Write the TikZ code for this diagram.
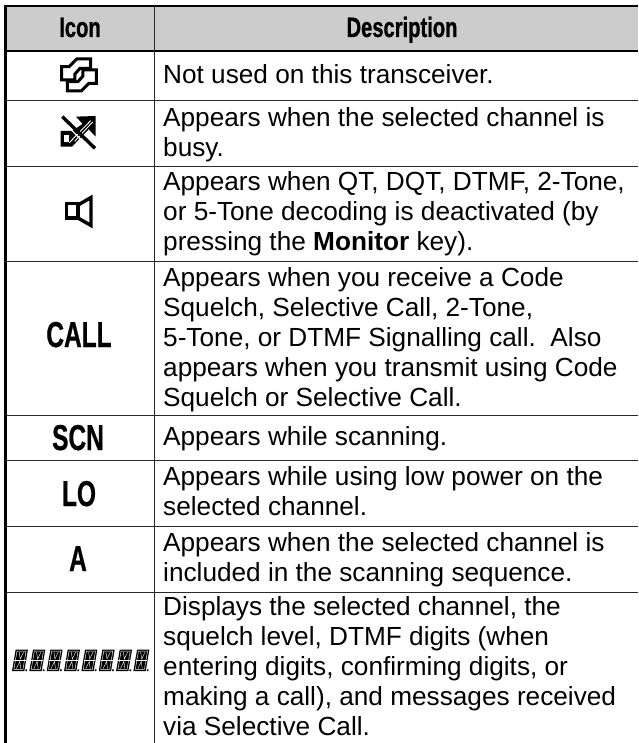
\documentclass[tikz,border=0pt]{standalone}
\usepackage{fontspec}
\setmainfont{Liberation Sans}
\newfontfamily\condfont[FakeStretch=0.68,FakeBold=0.6]{Liberation Sans}
\newfontfamily\headfont[FakeStretch=0.72,FakeBold=0.8]{Liberation Sans}
\definecolor{headgrey}{HTML}{CCCCCC}
\definecolor{rulegrey}{HTML}{2A2A2A}
\newcommand{\cellstrut}{\rule{0pt}{20pt}}
\tikzset{
  cellrule/.style={draw=rulegrey,line width=1pt},
  headrule/.style={draw=black,line width=2pt},
  desc/.style={anchor=north west,inner sep=0pt,align=left,font=\fontsize{26.2}{30}\selectfont},
  headtext/.style={anchor=base,inner sep=0pt,font=\headfont\bfseries\fontsize{28}{30}\selectfont},
  icontext/.style={anchor=base,inner sep=0pt,font=\condfont\bfseries\fontsize{36}{36}\selectfont},
  iconline/.style={draw=black,line width=3pt,line join=miter,fill=white}
}
\begin{document}
\begin{tikzpicture}[x=1pt,y=-1pt]
\useasboundingbox (0,0) rectangle (638,743);
\fill[white] (0,0) rectangle (638,743);
\fill[headgrey] (5,6) rectangle (638,51);
% rules
\foreach \yy in {100.5,166.5,261.7,415.3,460.7,526.3,592}
  \draw[cellrule] (5,\yy) -- (638,\yy);
\draw[headrule] (4,6) -- (638,6);
\draw[headrule] (4,51.5) -- (638,51.5);
\draw[draw=black,line width=2.4pt] (5.5,5) -- (5.5,743);
\draw[cellrule] (154.5,6) -- (154.5,743);
% header
\node[headtext] (hicon) at (80,37) {Icon};
\node[headtext] (hdesc) at (402,37) {Description};
% descriptions
\node[desc] (d1) at (163,63) {\cellstrut Not used on this transceiver.};
\node[desc] (d2) at (163,106) {\cellstrut Appears when the selected channel is\\busy.};
\node[desc] (d3) at (163,170.5) {\cellstrut Appears when QT, DQT, DTMF, 2-Tone,\\or 5-Tone decoding is deactivated (by\\pressing the \textbf{Monitor} key).};
\node[desc] (d4) at (163,266.5) {\cellstrut Appears when you receive a Code\\Squelch, Selective Call, 2-Tone,\\5-Tone, or DTMF Signalling call.\ \ Also\\appears when you transmit using Code\\Squelch or Selective Call.};
\node[desc] (d5) at (163,425) {\cellstrut Appears while scanning.};
\node[desc] (d6) at (163,465) {\cellstrut Appears while using low power on the\\selected channel.};
\node[desc] (d7) at (163,531) {\cellstrut Appears when the selected channel is\\included in the scanning sequence.};
\node[desc] (d8) at (163,595) {\cellstrut Displays the selected channel, the\\squelch level, DTMF digits (when\\entering digits, confirming digits, or\\making a call), and messages received\\via Selective Call.};
% text icons
\node[icontext] (call) at (79,347) {CALL};
\node[icontext] (scn) at (78,450) {SCN};
\node[icontext] (lo) at (79,506) {LO};
\node[icontext] (aa) at (78,571) {A};
% icon 1: two arrows
\begin{scope}[x=0.3333pt,y=-0.3333pt]
\draw[iconline] (272,177) -- (230,177) -- (207,200) -- (185,200) -- (185,240) -- (225,240) -- (225,222) -- (240,205) -- (272,205) -- cycle;
\draw[iconline] (202,273) -- (244,273) -- (267,250) -- (289,250) -- (289,210) -- (249,210) -- (249,228) -- (234,245) -- (202,245) -- cycle;
% icon 2: crossed arrow
\fill[black] (228,350) -- (287,348) -- (287,410) -- (266,388) -- (216,440) -- (182,440) -- (182,393) -- (215,393) -- (248,372) -- cycle;
\fill[white] (192,404) rectangle (206,426);
\draw[white,line width=0.9pt] (208,428) -- (272,362);
\draw[white,line width=0.9pt] (224,424) -- (278,366);
\draw[white,line width=1.2pt] (183,358) -- (270,447);
\draw[black,line width=3.4pt] (187,350) -- (285,445);
\end{scope}
% icon 3: speaker
\draw[draw=black,line width=3.4pt,line join=miter] (66.5,203.5) rectangle (78,218);
\draw[draw=black,line width=3.4pt,line join=miter] (78,205) -- (91,197.5) -- (91,225.5) -- (78,218);
% display digits
\foreach \nn in {0,...,7}{
\begin{scope}[shift={(12+17.35*\nn,671)},xslant=0.17]
\fill[black] (0,-21.5) rectangle (12.3,0);
\draw[white,line width=0.45pt] (1.6,-19.8) rectangle (10.7,-1.6);
\draw[white,line width=0.8pt] (0.3,-10.8) -- (12,-10.8);
\draw[white,line width=0.4pt] (4,-19) -- (6.2,-12) -- (8.4,-19) (4,-2.4) -- (6.2,-9.5) -- (8.4,-2.4);
\fill[black] (13.3,-1.6) rectangle (14.9,0);
\end{scope}
}
\end{tikzpicture}
\end{document}
